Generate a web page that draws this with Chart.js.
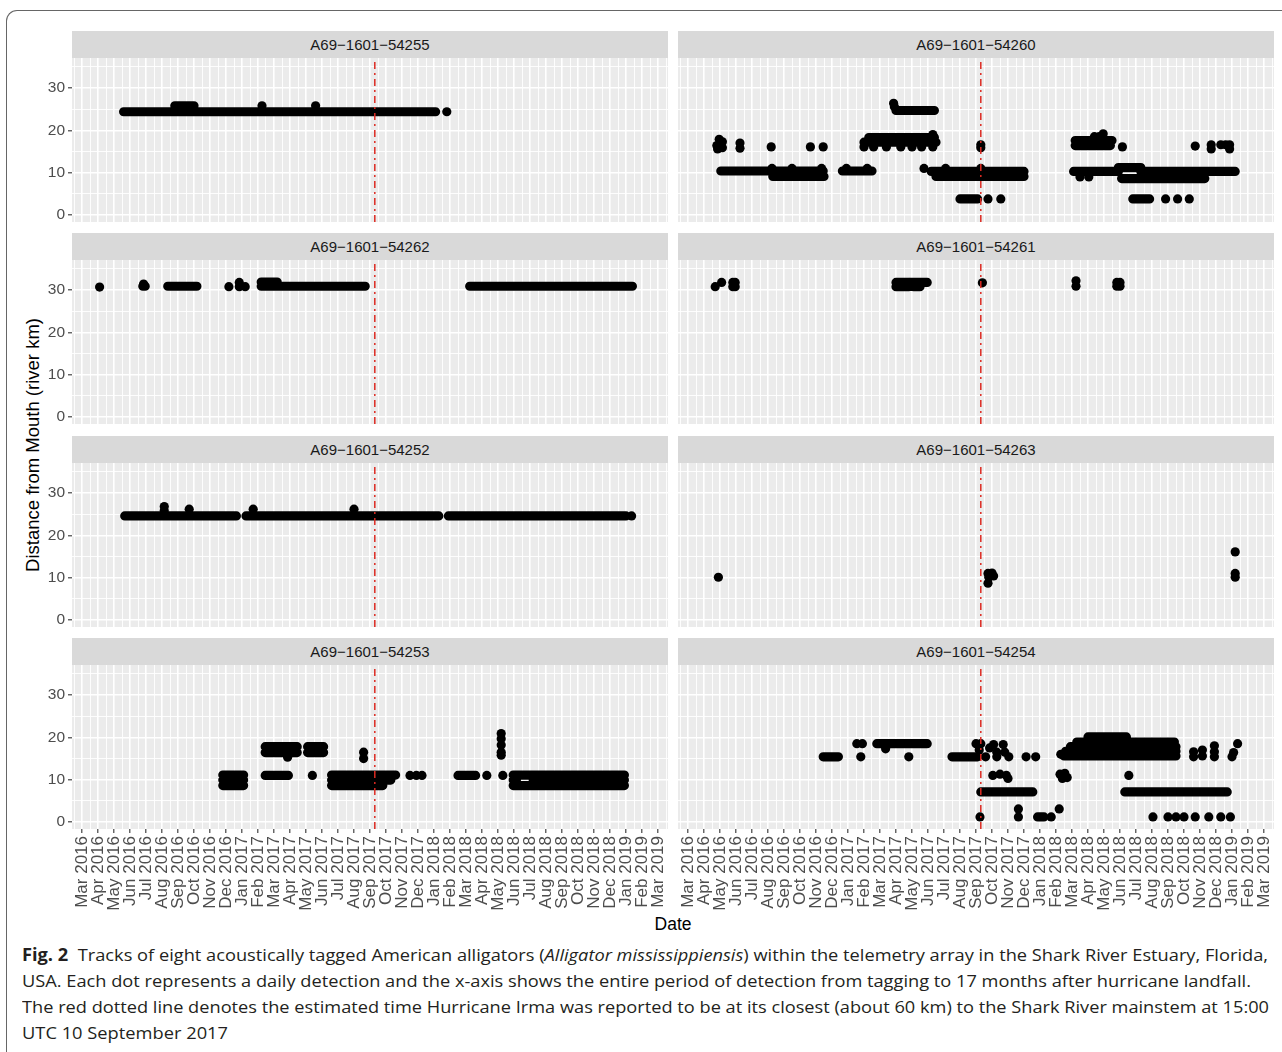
<!DOCTYPE html>
<html>
<head>
<meta charset="utf-8">
<script src="https://cdn.jsdelivr.net/npm/chart.js@4.4.1/dist/chart.umd.min.js"></script>
<style>
html,body{margin:0;padding:0;background:#fff;}
body{width:1282px;height:1052px;overflow:hidden;position:relative;font-family:"Liberation Sans",Arial,sans-serif;}
.frame{position:absolute;left:6px;top:10px;width:1400px;height:1200px;border-top:1.4px solid #666;border-left:1.4px solid #666;border-top-left-radius:11px;box-sizing:border-box;}
.strip{position:absolute;height:27px;background:#d9d9d9;color:#1a1a1a;font-size:15px;line-height:28px;text-align:center;white-space:nowrap;}
canvas{position:absolute;}
.ytitle{position:absolute;left:33px;top:445px;transform:translate(-50%,-50%) rotate(-90deg);font-size:18.5px;color:#000;white-space:nowrap;}
.xtitle{position:absolute;left:673px;top:924px;transform:translate(-50%,-50%);font-size:17.5px;color:#000;white-space:nowrap;}
.cap{position:absolute;left:22px;font-family:"Open Sans",sans-serif;font-size:17px;line-height:26px;color:#231f20;white-space:nowrap;transform-origin:0 50%;}
.cap b{font-weight:700;}
</style>
</head>
<body>
<div class="frame"></div>
<div class="ytitle">Distance from Mouth (river km)</div>
<div class="xtitle">Date</div>
<div class="cap" style="top:942px" data-w="1246"><b>Fig. 2</b>&nbsp; Tracks of eight acoustically tagged American alligators (<i>Alligator mississippiensis</i>) within the telemetry array in the Shark River Estuary, Florida,</div>
<div class="cap" style="top:968px" data-w="1229">USA. Each dot represents a daily detection and the x-axis shows the entire period of detection from tagging to 17 months after hurricane landfall.</div>
<div class="cap" style="top:994px" data-w="1247">The red dotted line denotes the estimated time Hurricane Irma was reported to be at its closest (about 60 km) to the Shark River mainstem at 15:00</div>
<div class="cap" style="top:1020px" data-w="206">UTC 10 September 2017</div>
<script>
// ---------------- DATA ----------------
// x values are months since 1 Mar 2016 (0 = Mar 2016, 12 = Mar 2017 ...), y values are river km
const monthLabels = ['Mar 2016','Apr 2016','May 2016','Jun 2016','Jul 2016','Aug 2016','Sep 2016','Oct 2016','Nov 2016','Dec 2016',
  'Jan 2017','Feb 2017','Mar 2017','Apr 2017','May 2017','Jun 2017','Jul 2017','Aug 2017','Sep 2017','Oct 2017','Nov 2017','Dec 2017',
  'Jan 2018','Feb 2018','Mar 2018','Apr 2018','May 2018','Jun 2018','Jul 2018','Aug 2018','Sep 2018','Oct 2018','Nov 2018','Dec 2018',
  'Jan 2019','Feb 2019','Mar 2019'];
const yTickLabels = [0, 10, 20, 30];
const hurricaneMonth = 18.3;   // 10 September 2017 15:00 UTC
const tagIds = ['A69\u22121601\u221254255','A69\u22121601\u221254260','A69\u22121601\u221254262','A69\u22121601\u221254261',
                'A69\u22121601\u221254252','A69\u22121601\u221254263','A69\u22121601\u221254253','A69\u22121601\u221254254'];

// runs: consecutive daily detections [first month, last month, river km]; dots: single detections [month, river km]
const runs54255 = [[2.6,22.1,24.4],[5.8,7.0,25.8]];
const dots54255 = [[22.8,24.4],[11.25,25.8],[14.6,25.8]];

const runs54260 = [[2.05,8.45,10.4],[5.3,8.5,9.1],[9.65,11.5,10.4],[11.3,15.4,18.3],[11.0,15.5,17.2],[13.0,15.4,24.7],
  [15.2,21.0,10.3],[15.5,21.0,9.1],[17.0,18.1,3.8],[24.2,26.5,17.6],[24.2,26.4,16.4],[24.1,26.9,10.3],[28.3,34.2,10.3],
  [26.9,28.3,11.2],[27.1,32.3,8.6],[27.8,28.85,3.8]];
const dots54260 = [[1.8,16.4],[1.95,17.9],[2.15,17.3],[1.85,15.6],[2.15,15.9],[3.25,17.0],[3.25,15.8],[5.2,16.1],[7.65,16.1],[8.45,16.1],
  [5.25,11.0],[6.5,11.0],[8.35,11.0],[9.9,11.0],[11.2,11.0],[14.75,11.0],[16.1,11.0],[18.3,11.0],
  [11.0,16.1],[11.6,16.1],[12.4,16.1],[13.3,16.1],[14.0,16.1],[14.6,16.1],[15.3,16.1],[15.3,19.0],[12.85,26.4],[12.9,25.6],
  [18.3,16.6],[18.3,15.9],[18.75,3.8],[19.55,3.8],[25.95,19.2],[25.4,18.5],[25.7,18.5],[27.15,16.1],[24.5,9.0],[25.05,9.0],
  [29.85,3.8],[30.6,3.8],[31.33,3.8],[31.7,16.3],[32.7,16.6],[32.7,15.6],[33.3,16.6],[33.6,16.6],[33.85,16.6],[33.85,15.6]];

const runs54262 = [[3.8,3.95,30.9],[5.36,7.18,30.9],[11.2,17.7,30.9],[11.2,12.2,31.9],[24.23,34.4,30.9]];
const dots54262 = [[1.1,30.7],[3.85,31.4],[9.18,30.8],[9.83,31.8],[9.83,30.8],[10.2,30.8]];

const runs54261 = [[13.0,13.8,31.8],[13.0,13.8,30.8],[13.9,14.95,31.8],[14.1,14.5,30.8]];
const dots54261 = [[1.7,30.8],[2.1,31.8],[2.8,31.8],[2.8,30.8],[2.95,31.8],[2.95,30.8],[18.4,31.7],[24.25,32.2],[24.25,30.9],
  [26.8,31.8],[26.8,30.9],[27.0,31.8],[27.0,30.9]];

const runs54252 = [[2.67,9.65,24.6],[10.25,22.3,24.6],[22.9,34.0,24.6]];
const dots54252 = [[34.35,24.6],[5.14,26.8],[5.14,25.8],[6.7,26.2],[10.7,26.2],[17.0,26.2]];

const runs54263 = [];
const dots54263 = [[1.9,10.1],[18.75,11.0],[19.0,11.1],[19.1,10.4],[18.8,10.1],[18.75,8.7],[34.2,16.1],[34.2,11.0],[34.2,10.1]];

const runs54253 = [[8.8,10.1,11.1],[8.8,10.1,9.9],[8.8,10.1,8.6],[11.45,13.45,17.8],[11.45,13.45,16.4],[14.1,15.1,17.8],[14.1,15.1,16.4],
  [11.45,12.9,11.0],[15.6,19.6,11.1],[15.6,19.3,9.9],[15.6,18.8,8.6],[23.5,24.6,11.0],
  [26.95,33.9,11.1],[26.95,27.15,9.9],[28.2,33.9,9.9],[26.95,33.9,8.6]];
const dots54253 = [[14.4,11.0],[12.85,15.3],[17.6,16.5],[17.6,15.0],[20.5,11.0],[20.9,11.0],[21.25,11.0],[25.3,11.0],
  [26.2,20.9],[26.2,19.7],[26.2,18.2],[26.2,16.5],[26.2,15.8],[26.3,11.0]];

const runs54254 = [[8.45,9.4,15.4],[11.8,14.95,18.5],[16.5,18.1,15.4],[18.3,21.55,7.1],[27.3,33.7,7.1],[21.85,22.25,1.2],
  [23.5,30.5,15.6],[23.6,30.5,16.7],[23.9,30.5,17.8],[24.3,30.4,18.9],[25.0,27.4,20.1]];
const dots54254 = [[10.55,18.5],[10.9,18.5],[10.8,15.4],[12.35,17.3],[13.8,15.4],[18.0,18.5],[18.3,18.5],[18.2,17.0],
  [18.6,15.4],[19.3,15.4],[20.05,15.4],[21.13,15.4],[21.73,15.4],[18.85,17.5],[19.1,18.3],[19.7,18.3],[19.3,16.5],[19.8,16.5],
  [19.05,11.0],[19.5,11.3],[19.9,11.0],[20.0,10.3],[23.25,11.3],[23.55,11.5],[23.4,10.3],[23.7,10.5],[27.55,11.0],
  [18.25,1.2],[20.65,3.1],[20.65,1.2],[22.7,1.2],[23.2,3.1],[29.06,1.2],[30.0,1.2],[30.5,1.2],[31.0,1.2],[31.7,1.2],[32.55,1.2],
  [33.3,1.2],[33.9,1.2],[23.3,16.0],[31.6,16.6],[31.6,15.4],[32.15,17.0],[32.15,15.6],[32.9,18.0],[32.9,16.6],[32.9,15.4],
  [34.0,15.4],[34.1,16.4],[34.35,18.5]];

const panelRuns = [runs54255, runs54260, runs54262, runs54261, runs54252, runs54263, runs54253, runs54254];
const panelDots = [dots54255, dots54260, dots54262, dots54261, dots54252, dots54263, dots54253, dots54254];

// ---------------- LAYOUT ----------------
const X_MIN = -0.625, X_MAX = 36.625, Y_MIN = -1.65, Y_MAX = 37.1;
const colLeft = [72, 678], PANEL_W = 596, PANEL_H = 164, STRIP_H = 27;
const rowTop = [58, 260, 463, 665];
const Y_AXIS_W = 40, X_AXIS_H = 92;
const FONT = '"Liberation Sans", Arial, sans-serif';
const RED = '#dc2a22';

const xTickValues = [];
for (let i = 0; i < monthLabels.length; i++) { xTickValues.push(i - 0.5, i); }
xTickValues.push(monthLabels.length - 0.5);
const yTickValues = [0, 5, 10, 15, 20, 25, 30, 35];

function makePanel(i) {
  const col = i % 2, row = Math.floor(i / 2);
  const showY = col === 0, showX = row === 3;
  const left = colLeft[col] - (showY ? Y_AXIS_W : 0);
  const width = PANEL_W + (showY ? Y_AXIS_W : 0);
  const height = PANEL_H + (showX ? X_AXIS_H : 0);

  const strip = document.createElement('div');
  strip.className = 'strip';
  strip.style.left = colLeft[col] + 'px';
  strip.style.top = (rowTop[row] - STRIP_H) + 'px';
  strip.style.width = PANEL_W + 'px';
  strip.textContent = tagIds[i];
  document.body.appendChild(strip);

  const cv = document.createElement('canvas');
  cv.width = width; cv.height = height;
  cv.style.left = left + 'px'; cv.style.top = rowTop[row] + 'px';
  cv.style.width = width + 'px'; cv.style.height = height + 'px';
  document.body.appendChild(cv);

  const runData = [];
  panelRuns[i].forEach(([a, b, v]) => { runData.push({x: a, y: v}, {x: b, y: v}, {x: b, y: null}); });

  const isMajorX = v => Number.isInteger(v);
  const isMajorY = v => v % 10 === 0;

  new Chart(cv, {
    type: 'scatter',
    data: {
      datasets: [
        { type: 'line', data: [{x: hurricaneMonth, y: Y_MIN}, {x: hurricaneMonth, y: Y_MAX}],
          borderColor: RED, borderWidth: 1.5, borderDash: [7, 4, 2, 4], pointRadius: 0, fill: false, order: 0 },
        { type: 'scatter', data: panelDots[i].map(([x, y]) => ({x, y})),
          pointRadius: 4.6, pointHoverRadius: 4.6, pointBackgroundColor: '#000', pointBorderWidth: 0, borderWidth: 0, order: 1 },
        { type: 'line', data: runData, borderColor: '#000', borderWidth: 9.2, borderCapStyle: 'round',
          borderJoinStyle: 'round', pointRadius: 0, spanGaps: false, fill: false, tension: 0, order: 2 }
      ]
    },
    options: {
      responsive: false, animation: false, devicePixelRatio: 1,
      layout: { padding: 0, autoPadding: false },
      plugins: { legend: { display: false }, tooltip: { enabled: false } },
      events: [],
      scales: {
        x: {
          type: 'linear', min: X_MIN, max: X_MAX,
          afterBuildTicks: s => { s.ticks = xTickValues.map(v => ({value: v})); },
          afterFit: s => { s.height = showX ? X_AXIS_H : 0; s.paddingLeft = 0; s.paddingRight = 0; },
          border: { display: false },
          grid: {
            color: '#ffffff',
            lineWidth: c => (c.tick && isMajorX(c.tick.value)) ? 1.6 : 0.9,
            drawTicks: showX, tickLength: 4, tickWidth: 1.1,
            tickColor: c => (c.tick && isMajorX(c.tick.value)) ? '#333333' : 'rgba(0,0,0,0)'
          },
          ticks: {
            display: showX, autoSkip: false, maxRotation: 90, minRotation: 90, padding: 3,
            color: '#4d4d4d', font: { family: FONT, size: 17 },
            callback: v => isMajorX(v) ? monthLabels[v] : ''
          }
        },
        y: {
          type: 'linear', min: Y_MIN, max: Y_MAX,
          afterBuildTicks: s => { s.ticks = yTickValues.map(v => ({value: v})); },
          afterFit: s => { s.width = showY ? Y_AXIS_W : 0; s.paddingTop = 0; s.paddingBottom = 0; },
          border: { display: false },
          grid: {
            color: '#ffffff',
            lineWidth: c => (c.tick && isMajorY(c.tick.value)) ? 1.6 : 0.9,
            drawTicks: showY, tickLength: 4, tickWidth: 1.1,
            tickColor: c => (c.tick && isMajorY(c.tick.value)) ? '#333333' : 'rgba(0,0,0,0)'
          },
          ticks: {
            display: showY, autoSkip: false, padding: 3,
            color: '#4d4d4d', font: { family: FONT, size: 15.5 },
            callback: v => yTickLabels.includes(v) ? String(v) : ''
          }
        }
      }
    },
    plugins: [{
      id: 'panelBg',
      beforeDraw(chart) {
        const a = chart.chartArea, ctx = chart.ctx;
        ctx.save(); ctx.fillStyle = '#ebebeb';
        ctx.fillRect(a.left, a.top, a.right - a.left, a.bottom - a.top);
        ctx.restore();
      }
    }]
  });
}
for (let i = 0; i < 8; i++) makePanel(i);

function fitCaptions() {
  document.querySelectorAll('.cap').forEach(el => {
    el.style.transform = 'none';
    const w = el.getBoundingClientRect().width;
    const target = +el.dataset.w;
    el.style.transform = 'scaleX(' + (target / w) + ')';
  });
}
document.querySelectorAll('.cap').forEach(el => { el.style.display = 'inline-block'; });
fitCaptions();
if (document.fonts && document.fonts.ready) document.fonts.ready.then(fitCaptions);
</script>
</body>
</html>
